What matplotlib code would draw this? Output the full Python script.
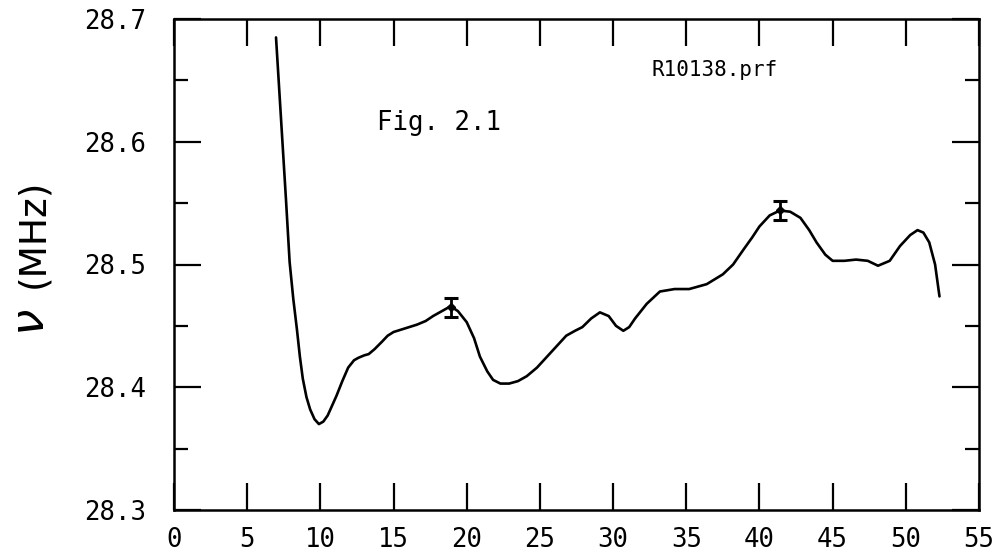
import matplotlib
matplotlib.use("Agg")
import matplotlib.pyplot as plt

# curve
x = [6.97, 7.3, 7.65, 7.9, 8.15, 8.4, 8.6, 8.8, 9.05, 9.3, 9.6, 9.9, 10.2, 10.5,
     10.8, 11.1, 11.5, 11.9, 12.3, 12.6, 13.0, 13.3, 13.7, 14.2, 14.6, 15.0, 15.8,
     16.6, 17.2, 17.7, 18.3, 18.9, 19.4, 20.0, 20.5, 20.9, 21.4, 21.8, 22.3, 22.9,
     23.5, 24.1, 24.8, 25.8, 26.8, 27.4, 27.9, 28.5, 29.1, 29.7, 30.2, 30.7, 31.1,
     31.5, 32.3, 33.2, 34.2, 35.2, 36.4, 37.5, 38.2, 38.9, 39.5, 40.0, 40.7, 41.4,
     42.1, 42.8, 43.4, 43.9, 44.5, 45.0, 45.8, 46.6, 47.4, 48.1, 48.9, 49.6, 50.3,
     50.8, 51.2, 51.6, 52.0, 52.3]
y = [28.685, 28.621, 28.553, 28.502, 28.472, 28.447, 28.425, 28.407, 28.392, 28.382,
     28.374, 28.370, 28.372, 28.377, 28.385, 28.393, 28.405, 28.416, 28.422, 28.424,
     28.426, 28.427, 28.431, 28.437, 28.442, 28.445, 28.448, 28.451, 28.454, 28.458,
     28.462, 28.466, 28.462, 28.453, 28.440, 28.425, 28.413, 28.406, 28.403, 28.403,
     28.405, 28.409, 28.416, 28.429, 28.442, 28.446, 28.449, 28.456, 28.461, 28.458,
     28.450, 28.446, 28.449, 28.456, 28.468, 28.478, 28.480, 28.480, 28.484, 28.492,
     28.500, 28.512, 28.522, 28.531, 28.540, 28.544, 28.543, 28.538, 28.528, 28.518,
     28.508, 28.503, 28.503, 28.504, 28.503, 28.499, 28.503, 28.515, 28.524, 28.528,
     28.526, 28.518, 28.500, 28.474]

err_x = [18.9, 41.4]
err_y = [28.465, 28.544]
err_e = [0.0075, 0.0078]

xticks = [0, 5, 10, 15, 20, 25, 30, 35, 40, 45, 50, 55]
yticks = [28.3, 28.4, 28.5, 28.6, 28.7]
yminor = [28.35, 28.45, 28.55, 28.65]

fig = plt.figure(figsize=(10.05, 5.54), dpi=100)
ax = fig.add_axes([174 / 1005, 1 - 510 / 554, 805 / 1005, 491 / 554])

ax.plot(x, y, color="black", lw=1.9, solid_capstyle="round", solid_joinstyle="round")
ax.errorbar(err_x, err_y, yerr=err_e, fmt="D", ms=4, color="black",
            ecolor="black", elinewidth=2, capsize=5, capthick=2.2)

ax.set_xlim(0, 55)
ax.set_ylim(28.3, 28.7)
ax.set_xticks(xticks)
ax.set_xticklabels([str(v) for v in xticks])
ax.set_yticks(yticks)
ax.set_yticklabels(["%.1f" % v for v in yticks])
ax.set_yticks(yminor, minor=True)

for s in ax.spines.values():
    s.set_linewidth(1.8)

ax.tick_params(which="both", direction="in", top=True, right=True, width=1.6)
ax.tick_params(which="major", length=19.5)
ax.tick_params(which="minor", length=10)
ax.tick_params(axis="x", pad=12)
ax.tick_params(axis="y", pad=20)
for lab in ax.get_xticklabels() + ax.get_yticklabels():
    lab.set_family("DejaVu Sans Mono")
    lab.set_fontsize(18.5)

fig.text(439 / 1005, 1 - 123 / 554, "Fig. 2.1", family="DejaVu Sans Mono",
         fontsize=18.5, ha="center", va="center")
fig.text(715 / 1005, 1 - 70 / 554, "R10138.prf", family="DejaVu Sans Mono",
         fontsize=15, ha="center", va="center")

fig.text(32 / 1005, 1 - 322 / 554, r"$\nu$", fontsize=34, rotation=90,
         ha="center", va="center")
fig.text(33 / 1005, 1 - 233 / 554, "(MHz)", fontsize=27, rotation=90,
         ha="center", va="center")

fig.savefig("out.png", dpi=100)
